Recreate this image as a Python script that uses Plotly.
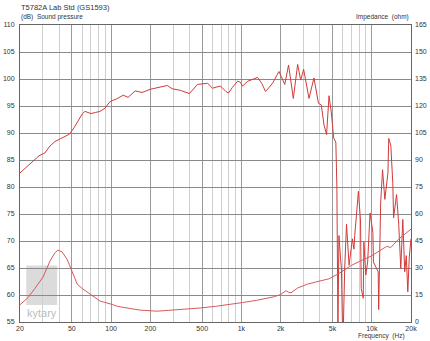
import plotly.graph_objects as go

# Sound pressure (dB, left axis)
spl_freq = [20, 22, 25, 28, 31, 34, 37, 40, 44, 48, 52, 56, 60, 63, 66, 70, 76, 82, 90, 97,
            102, 110, 124, 135, 153, 173, 200, 231, 270, 294, 340, 399, 460, 550, 600, 690,
            759, 797, 850, 935, 980, 1020, 1120, 1240, 1330, 1430, 1530, 1640, 1740, 1940,
            2000, 2150, 2300, 2500, 2700, 2850, 3000, 3100, 3300, 3600, 3900, 4100, 4200,
            4300, 4500, 4700, 4900, 5100, 5300, 5400, 5500, 5600, 5750, 5850, 6000, 6200,
            6400, 6700, 7100, 7300, 7400, 7900, 8200, 8300, 8600, 8700, 9000, 9300, 9700,
            10200, 10300, 11200, 11300, 11700, 12100, 12600, 13300, 13500, 14000, 14500,
            14700, 15500, 16100, 16700, 17300, 17900, 18400, 18900, 19400, 20000]
spl_db = [82.6, 83.5, 84.8, 85.8, 86.3, 87.6, 88.4, 88.8, 89.2, 89.8, 91.0, 92.3, 93.5, 94.0,
          93.8, 93.6, 93.8, 94.0, 94.6, 95.7, 96.0, 96.3, 97.0, 96.6, 97.8, 97.5, 98.1, 98.4,
          98.8, 98.2, 97.9, 97.3, 99.0, 99.2, 98.3, 98.7, 97.7, 97.4, 98.4, 99.6, 99.4, 98.7,
          99.6, 100.0, 100.3, 99.2, 97.7, 98.5, 99.3, 101.4, 100.7, 99.0, 102.6, 96.4, 102.7,
          99.8, 101.8, 100.0, 96.4, 100.2, 95.5, 95.2, 93.1, 91.5, 89.7, 96.9, 93.7, 89.1,
          88.3, 80.0, 54.0, 71.0, 67.0, 64.9, 50.0, 65.0, 73.1, 65.5, 70.4, 68.5, 71.0, 79.2,
          73.7, 61.2, 59.4, 69.8, 63.7, 66.1, 75.2, 71.6, 66.1, 64.3, 57.3, 77.0, 83.2, 77.7,
          82.6, 89.0, 87.7, 80.7, 74.3, 78.6, 73.1, 64.9, 74.0, 64.3, 67.3, 60.6, 67.0, 70.4]

# Impedance (plotted in left-axis units; right axis labels ohm)
imp_freq = [20, 23, 26, 30, 34, 37, 39, 42, 46, 51, 55, 60, 66, 75, 82, 100, 112, 140, 167,
            226, 300, 400, 484, 633, 800, 1020, 1300, 1530, 1800, 2000, 2200, 2300, 2400,
            2700, 3200, 4000, 4700, 5700, 7000, 8500, 9900, 11500, 13000, 14000, 16000, 20000]
imp_val = [58.2, 59.5, 61.2, 63.3, 66.3, 67.8, 68.3, 68.0, 66.6, 63.8, 62.0, 61.2, 60.5,
           59.5, 58.9, 58.3, 57.9, 57.5, 57.2, 57.0, 57.2, 57.4, 57.6, 57.9, 58.2, 58.6,
           59.0, 59.3, 59.7, 60.1, 60.8, 60.5, 60.4, 61.3, 62.0, 62.6, 63.0, 64.1, 65.5,
           66.5, 67.2, 68.2, 69.0, 68.8, 70.3, 72.2]

x_major = [20, 50, 100, 200, 500, 1000, 2000, 5000, 10000, 20000]
x_major_text = ["20", "50", "100", "200", "500", "1k", "2k", "5k", "10k", "20k"]
x_minor = [30, 40, 60, 70, 80, 90, 300, 400, 600, 700, 800, 900,
           3000, 4000, 6000, 7000, 8000, 9000]

font_fam = "Liberation Sans, Arial, sans-serif"
red = "#d23a3a"

fig = go.Figure()
fig.add_trace(go.Scatter(x=spl_freq, y=spl_db, mode="lines",
                         line=dict(color=red, width=1), showlegend=False))
fig.add_trace(go.Scatter(x=imp_freq, y=imp_val, mode="lines",
                         line=dict(color="#d65a5a", width=1), showlegend=False))
# invisible trace to activate right axis
fig.add_trace(go.Scatter(x=[20], y=[0], yaxis="y2", mode="markers",
                         marker=dict(opacity=0), showlegend=False, hoverinfo="skip"))

fig.update_layout(
    width=430, height=341,
    margin=dict(l=20, r=19, t=25, b=19),
    paper_bgcolor="white", plot_bgcolor="white",
    font=dict(family=font_fam, size=7, color="#333"),
    xaxis=dict(type="log", range=[1.30103, 4.30103], automargin=False,
               tickvals=x_major, ticktext=x_major_text,
               showgrid=True, gridcolor="#9a9a9a", gridwidth=1,
               minor=dict(tickvals=x_minor, showgrid=True, gridcolor="#cfcfcf",
                          gridwidth=1, ticks=""),
               showline=True, linecolor="#666", linewidth=1, mirror=True,
               ticks="", tickfont=dict(size=7, color="#333"), zeroline=False),
    yaxis=dict(range=[55, 110], dtick=5, showgrid=True, gridcolor="#8a8a8a",
               automargin=False,
               showline=True, linecolor="#666", linewidth=1, mirror=True,
               ticks="", tickfont=dict(size=7, color="#333"), zeroline=False,
               ticklabelstandoff=3),
    yaxis2=dict(range=[0, 165], dtick=15, overlaying="y", side="right",
                automargin=False,
                showgrid=False, ticks="", tickfont=dict(size=7, color="#333"),
                zeroline=False, showline=False, ticklabelstandoff=3),
    shapes=[dict(type="rect", xref="paper", yref="paper",
                 x0=0.016, x1=0.095, y0=0.057, y1=0.19,
                 fillcolor="rgba(190,190,190,0.55)", line=dict(width=0),
                 layer="below")],
    annotations=[
        dict(text="T5782A Lab Std (GS1593)", xref="paper", yref="paper",
             x=0, y=1, xshift=-1, yshift=18, xanchor="left", yanchor="middle",
             showarrow=False, font=dict(size=7.5, color="#333")),
        dict(text="(dB)  Sound pressure", xref="paper", yref="paper",
             x=0, y=1, xshift=-1, yshift=8, xanchor="left", yanchor="middle",
             showarrow=False, font=dict(size=6.5, color="#333")),
        dict(text="Impedance  (ohm)", xref="paper", yref="paper",
             x=1, y=1, yshift=8, xanchor="right", yanchor="middle",
             showarrow=False, font=dict(size=6.5, color="#333")),
        dict(text="Frequency  (Hz)", xref="paper", yref="paper",
             x=1, y=0, xshift=-4, yshift=-14, xanchor="right", yanchor="middle",
             showarrow=False, font=dict(size=6.5, color="#333")),
        dict(text="kytary", xref="paper", yref="paper",
             x=0.055, y=0.03, xanchor="center", yanchor="middle",
             showarrow=False, font=dict(size=11, color="#bdbdbd")),
    ],
)

fig.write_html("out.html")
